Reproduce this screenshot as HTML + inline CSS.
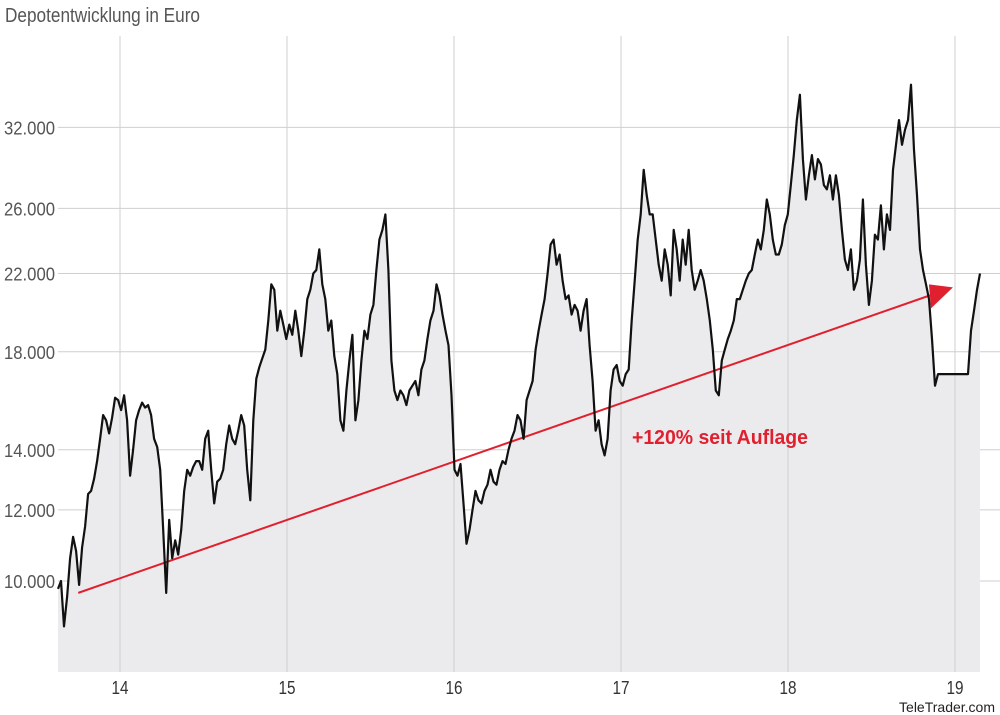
<!DOCTYPE html>
<html><head><meta charset="utf-8"><style>
html,body{margin:0;padding:0;background:#fff;}
svg{display:block;font-family:"Liberation Sans Narrow","Liberation Sans",sans-serif;}
</style></head><body>
<svg id="chart" width="1000" height="715">
<text x="5" y="22" font-size="20" fill="#555" textLength="195" lengthAdjust="spacingAndGlyphs">Depotentwicklung in Euro</text>
<g id="grid"></g>
<path id="area" fill="#ebebed"></path>
<g id="gridv"></g>
<path id="trend" stroke="#e0202f" stroke-width="2" fill="none"></path>
<polygon id="arrow" fill="#e0202f"></polygon>
<path id="line" stroke="#111" stroke-width="2.2" fill="none" stroke-linejoin="round"></path>
<text x="632" y="444" font-size="20" fill="#e0202f" font-weight="bold" textLength="176" lengthAdjust="spacingAndGlyphs">+120% seit Auflage</text>
<g id="ylabels"></g><g id="xlabels"></g>
<text x="995" y="712" font-size="14" text-anchor="end" fill="#222" font-family="Liberation Sans, sans-serif">TeleTrader.com</text>
</svg>
<script>
const yTicks=[10000,12000,14000,18000,22000,26000,32000];
const yTickLabels=["10.000","12.000","14.000","18.000","22.000","26.000","32.000"];
const xTicks=[14,15,16,17,18,19];
const xTickLabels=["14","15","16","17","18","19"];
const startYear=13.629, endYear=19.15;
const trendStart=[13.75,9700], trendEnd=[18.85,20800];
const values=[9.8,10.0,8.9,9.6,10.6,11.2,10.8,9.9,10.9,11.5,12.5,12.6,13.0,13.6,14.4,15.3,15.1,14.6,15.2,16.0,15.9,15.5,16.1,15.1,13.1,14.0,15.1,15.5,15.8,15.6,15.7,15.3,14.4,14.1,13.3,11.4,9.7,11.7,10.6,11.1,10.7,11.4,12.6,13.3,13.1,13.4,13.6,13.6,13.3,14.4,14.7,13.3,12.2,12.9,13.0,13.3,14.2,14.9,14.4,14.2,14.7,15.3,14.9,13.3,12.3,15.1,16.8,17.3,17.7,18.1,19.5,21.4,
21.1,19.0,20.0,19.3,18.6,19.3,18.8,20.0,19.0,17.8,19.0,20.6,21.1,22.0,22.2,23.4,21.4,20.6,19.0,19.5,17.8,17.0,15.1,14.7,16.3,17.6,18.8,15.1,15.9,17.6,19.0,18.6,19.8,20.3,22.2,24.0,24.6,25.6,22.2,17.6,16.3,15.9,16.3,16.1,15.7,16.3,16.5,16.7,16.1,17.2,17.6,18.6,19.5,20.0,21.4,20.8,19.8,19.0,18.3,16.1,13.3,13.1,13.5,12.2,11.0,11.4,12.0,12.6,12.3,12.2,12.6,12.8,13.3,12.9,12.8,13.3,13.6,13.5,14.0,14.4,14.7,15.3,15.1,14.4,15.9,16.3,16.7,18.1,19.0,19.8,20.6,22.0,23.7,24.0,22.5,23.1,21.6,20.6,20.8,19.8,20.3,20.0,19.0,20.0,20.6,18.3,16.7,14.7,15.1,14.2,13.8,14.4,16.3,17.2,17.4,16.7,16.5,17.0,17.2,19.5,21.6,24.0,25.6,28.7,26.9,25.6,25.6,24.0,22.5,21.6,23.4,22.5,20.8,24.6,23.4,21.6,24.0,22.5,24.6,22.2,21.1,21.6,22.2,21.6,20.6,19.5,18.1,16.3,16.1,17.6,18.1,18.6,19.0,19.5,20.6,20.6,21.1,21.6,22.0,22.2,23.1,24.0,23.4,24.6,26.6,25.6,24.0,23.1,23.1,23.7,24.9,25.6,27.6,29.8,32.6,34.8,29.5,26.6,28.3,29.8,28.0,29.5,29.1,27.6,27.3,28.3,26.6,28.3,26.9,24.6,22.8,22.2,23.4,21.1,21.6,22.8,26.6,22.5,20.3,21.6,24.3,24.0,26.2,23.4,25.6,24.6,28.7,30.6,32.6,30.6,31.8,32.6,35.7,30.2,26.9,23.4,22.2,21.4,20.6,18.6,16.5,17.0,17.0,17.0,17.0,17.0,17.0,17.0,17.0,17.0,17.0,17.0,19.0,20.0,21.1,22.0];

const xs=y=>120+(y-14)*167;
const ys=v=>581-390*Math.log(v/10000);
const NS="http://www.w3.org/2000/svg";
const grid=document.getElementById('grid'), gridv=document.getElementById('gridv');
yTicks.forEach((t,i)=>{
  const l=document.createElementNS(NS,'line');
  l.setAttribute('x1',58);l.setAttribute('x2',1000);l.setAttribute('y1',ys(t));l.setAttribute('y2',ys(t));
  l.setAttribute('stroke','#cfcfcf');l.setAttribute('stroke-width','1');
  
  
  grid.appendChild(l);
  const tx=document.createElementNS(NS,'text');
  tx.setAttribute('x',4);tx.setAttribute('y',ys(t)+7);tx.setAttribute('font-size','18');tx.setAttribute('fill','#555');
  tx.setAttribute('textLength','51');tx.setAttribute('lengthAdjust','spacingAndGlyphs');
  tx.textContent=yTickLabels[i];
  
  
  document.getElementById('ylabels').appendChild(tx);
});
xTicks.forEach((t,i)=>{
  const l=document.createElementNS(NS,'line');
  l.setAttribute('x1',xs(t));l.setAttribute('x2',xs(t));l.setAttribute('y1',36);l.setAttribute('y2',672);
  l.setAttribute('stroke','#cfcfcf');l.setAttribute('stroke-width','1');
  
  
  gridv.appendChild(l);
  const tx=document.createElementNS(NS,'text');
  tx.setAttribute('x',xs(t));tx.setAttribute('y',694);tx.setAttribute('font-size','18');tx.setAttribute('fill','#333');tx.setAttribute('text-anchor','middle');
  tx.setAttribute('textLength','17');tx.setAttribute('lengthAdjust','spacingAndGlyphs');
  tx.textContent=xTickLabels[i];
  
  
  document.getElementById('xlabels').appendChild(tx);
});
const n=values.length, step=(endYear-startYear)/(n-1);
const pts=values.map((v,i)=>[xs(startYear+i*step),ys(v*1000)]);
const d=pts.map((p,i)=>(i?'L':'M')+p[0].toFixed(1)+','+p[1].toFixed(1)).join('');
document.getElementById('line').setAttribute('d',d);
document.getElementById('area').setAttribute('d',d+'L'+pts[n-1][0].toFixed(1)+',672L'+pts[0][0].toFixed(1)+',672Z');
const a=[xs(trendStart[0]),ys(trendStart[1])], b=[xs(trendEnd[0]),ys(trendEnd[1])];
document.getElementById('trend').setAttribute('d','M'+a[0]+','+a[1]+'L'+b[0]+','+b[1]);
document.getElementById('arrow').setAttribute('points',(b[0]-1)+','+(b[1]-11)+' '+(b[0]+23)+','+(b[1]-8)+' '+(b[0]+1)+','+(b[1]+13));
</script>
</body></html>
